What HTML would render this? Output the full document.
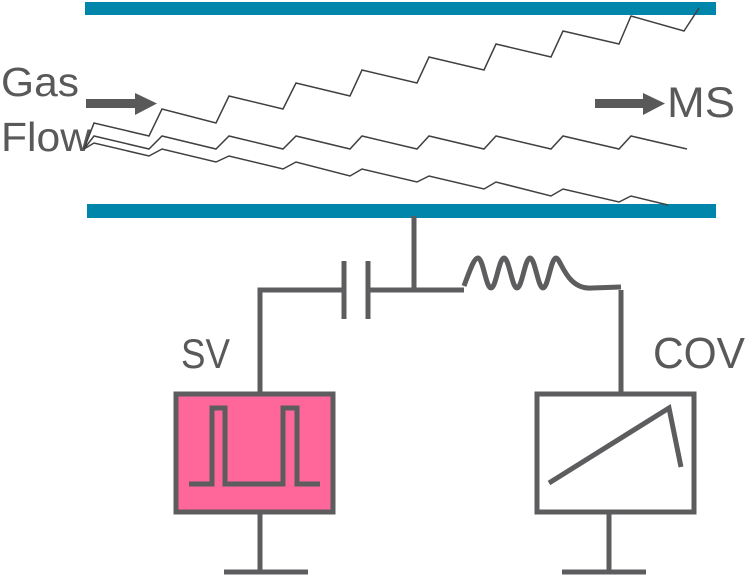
<!DOCTYPE html>
<html><head><style>html,body{margin:0;padding:0;background:#fff;}svg{display:block}</style></head>
<body>
<svg width="750" height="577" viewBox="0 0 750 577" xmlns="http://www.w3.org/2000/svg">
<rect x="85" y="2" width="631" height="13" fill="#0085ab"/>
<rect x="87" y="204" width="629" height="14" fill="#0085ab"/>
<g font-family="Liberation Sans, sans-serif" fill="#595959" font-size="41">
<text x="1" y="96" textLength="78" lengthAdjust="spacingAndGlyphs">Gas</text>
<text x="1" y="151" textLength="90" lengthAdjust="spacingAndGlyphs">Flow</text>
<text x="667" y="117" font-size="43" textLength="68" lengthAdjust="spacingAndGlyphs">MS</text>
<text x="181" y="368" font-size="42" textLength="49" lengthAdjust="spacingAndGlyphs">SV</text>
<text x="653" y="368" font-size="44" textLength="92" lengthAdjust="spacingAndGlyphs">COV</text>
</g>
<g fill="#595959">
<rect x="86" y="99" width="50" height="9"/><polygon points="135,93 157,103.5 135,115"/>
<rect x="595" y="99" width="50" height="9"/><polygon points="643,93 665,103.5 643,115"/>
</g>
<g fill="none" stroke="#404040" stroke-width="1.5" stroke-linejoin="miter">
<polyline points="84,149 94,123 149,136 162,109 216,123 229,96 283,109 296,83 350,96 362,70 417,83 429,57 484,70 496,44 551,57 563,31 619,44 631,16 684,31 699,8"/>
<polyline points="84,149 94,136 149,149 162,136 216,149 229,136 283,149 296,136 350,149 362,136 417,149 429,136 484,149 496,136 551,149 563,136 619,149 631,136 687,149"/>
<polyline points="84,149 94,143 149,156 162,149 216,162 229,156 283,169 296,162 350,176 362,169 417,182 429,176 484,189 496,182 551,196 563,189 619,202 631,196 668,205"/>
</g>
<g fill="none" stroke="#5d5d5f" stroke-width="5">
<line x1="414" y1="216" x2="414" y2="291"/>
<polyline points="260,392 260,290 344,290"/>
<line x1="344" y1="261" x2="344" y2="319"/>
<line x1="368" y1="261" x2="368" y2="319"/>
<line x1="368" y1="290" x2="464" y2="290"/>
<path d="M464,286 C470,270 474,258 478,258 C483,258 486,288 491,288 C496,288 499,258 504,258 C509,258 512,288 517,288 C522,288 525,258 530,258 C535,258 538,288 543,288 C548,288 551,258 556,258 C561,258 566,290 592,288 L621,287"/>
<line x1="621" y1="290" x2="621" y2="392"/>
<rect x="176" y="394" width="157" height="118" fill="#ff6699"/>
<polyline points="189,484 212,484 212,408 225,408 225,484 283,484 283,408 297,408 297,484 320,484"/>
<line x1="260" y1="512" x2="260" y2="572"/>
<line x1="224" y1="572" x2="308" y2="572"/>
<rect x="537" y="394" width="157" height="118" fill="#fff"/>
<polyline points="549,483 669,408 681,467"/>
<line x1="609" y1="512" x2="609" y2="572"/>
<line x1="562" y1="572" x2="646" y2="572"/>
</g>
</svg>
</body></html>
